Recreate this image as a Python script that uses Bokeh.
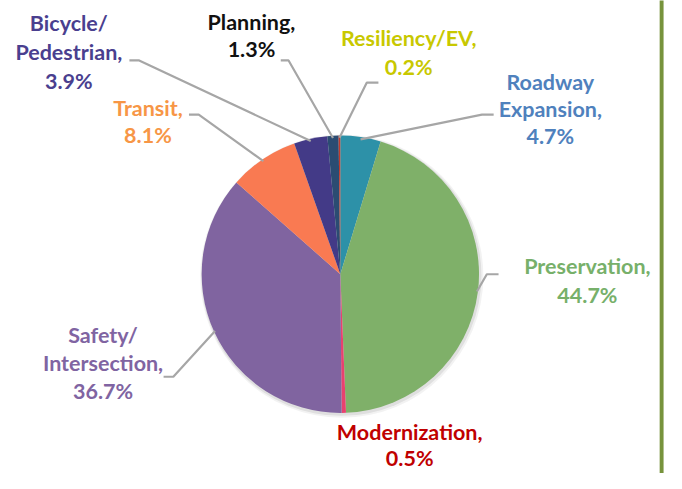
import math
from bokeh.plotting import figure
from bokeh.models import Range1d
from bokeh.core.properties import value
from bokeh.embed import file_html
from bokeh.resources import INLINE

# ---- data (clockwise from 12 o'clock) ----
categories = ["Roadway Expansion", "Preservation", "Modernization", "Safety/Intersection",
              "Transit", "Bicycle/Pedestrian", "Planning", "Resiliency/EV"]
shares = [4.7, 44.7, 0.5, 36.7, 8.1, 3.9, 1.3, 0.2]
label_names = [["Roadway", "Expansion,"], ["Preservation,"], ["Modernization,"],
               ["Safety/", "Intersection,"], ["Transit,"], ["Bicycle/", "Pedestrian,"],
               ["Planning,"], ["Resiliency/EV,"]]
slice_colors = ["#2D91A8", "#7FB069", "#E8416F", "#8064A0",
                "#F97A52", "#433A87", "#2B4C72", "#C0392B"]
label_colors = ["#4F81BD", "#77B06A", "#C00000", "#8064A2",
                "#F79646", "#4A3F8F", "#111111", "#C8C800"]

# ---- layout (reference pixel coordinates, y downwards) ----
CX, CY, R = 348.0, 283.0, 142.0
label_pos = [(563, 84, 28), (601, 274, 30), (419, 446, 27), (105, 346, 29),
             (151, 111, 28), (70, 23, 30), (257, 22, 28), (418, 39, 30)]
leader = [((493, 118), (505, 118)), ((498, 283), (510, 283)), None,
          ((177, 389), (167, 389)), ((203, 118), (193, 118)),
          ((142, 62), (132, 62)), ((295, 62), (287, 62)), ((375, 85), (387, 85))]

FONT = "Lato"
FS = "21.5px"

p = figure(width=666, height=473, output_backend="svg", toolbar_location=None,
           x_range=Range1d(0, 682), y_range=Range1d(-489, 0),
           min_border=0, outline_line_color=None, background_fill_color="white",
           border_fill_color="white")
p.axis.visible = False
p.grid.visible = False

# soft shadow
p.circle(x=[CX + 1.5], y=[-(CY + 2)], radius=R + 3, fill_color="#000000",
         fill_alpha=0.05, line_color=None)
p.circle(x=[CX + 1], y=[-(CY + 1.5)], radius=R + 1.5, fill_color="#000000",
         fill_alpha=0.08, line_color=None)

total = sum(shares)
starts, ends, mids = [], [], []
cum = 0.0
for v in shares:
    a = cum / total
    b = (cum + v) / total
    starts.append(math.pi / 2 - 2 * math.pi * a)
    ends.append(math.pi / 2 - 2 * math.pi * b)
    mids.append(2 * math.pi * (a + b) / 2)
    cum += v

p.wedge(x=[CX] * len(shares), y=[-CY] * len(shares), radius=R,
        start_angle=starts, end_angle=ends, direction="clock",
        fill_color=slice_colors, line_color=None)

# leader lines
xs, ys = [], []
for i, ld in enumerate(leader):
    if ld is None:
        continue
    th = mids[i]
    ex = CX + (R - 1) * math.sin(th)
    ey = CY - (R - 1) * math.cos(th)
    (bx, by), (tx, ty) = ld
    xs.append([ex, bx, tx])
    ys.append([-ey, -by, -ty])
p.multi_line(xs=xs, ys=ys, line_color="#A6A6A6", line_width=2.2)

# labels
tx_, ty_, tt_, tc_ = [], [], [], []
for i, names in enumerate(label_names):
    lx, ly, sp = label_pos[i]
    lines = names + ["%.1f%%" % shares[i]]
    for k, ln in enumerate(lines):
        tx_.append(lx)
        ty_.append(-(ly + k * sp))
        tt_.append(ln)
        tc_.append(label_colors[i])
p.text(x=tx_, y=ty_, text=tt_, text_color=tc_, text_align="center",
       text_baseline="middle", text_font=value(FONT), text_font_size=FS,
       text_font_style="bold")

# slide border on the right
p.quad(left=[675], right=[679], top=[5], bottom=[-495], fill_color="#77933C",
       line_color=None)

open("out.html", "w").write(file_html(p, INLINE))
